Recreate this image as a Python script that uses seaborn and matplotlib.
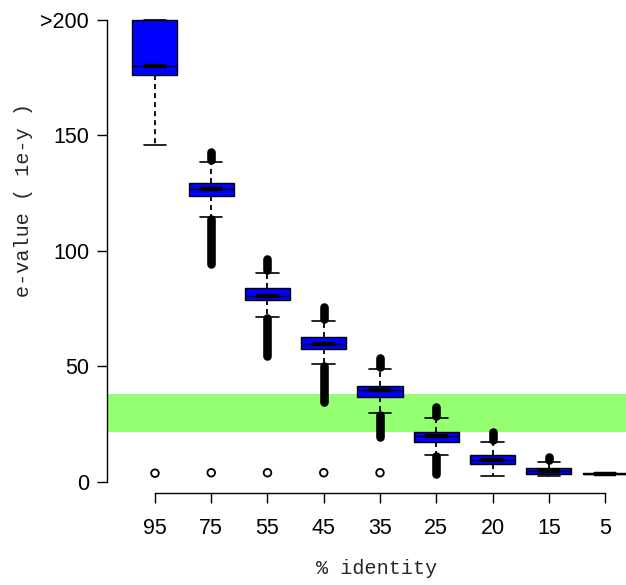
import numpy as np
import pandas as pd
import matplotlib
matplotlib.use("Agg")
import matplotlib.pyplot as plt
import seaborn as sns

nan = np.nan
identity = ["95", "75", "55", "45", "35", "25", "20", "15", "5"]
whisker_low = [146.0, 114.7, 71.6, 51.0, 29.7, 11.7, 2.6, 2.7, 3.3]
q1 = [176.0, 123.8, 78.8, 57.4, 36.7, 17.4, 7.6, 3.6, 3.4]
median = [180.0, 126.8, 80.6, 59.6, 39.7, 19.9, 9.7, 4.8, 3.6]
q3 = [200.0, 129.4, 84.0, 62.6, 41.7, 21.8, 11.7, 5.9, 3.8]
whisker_high = [200.0, 138.5, 90.6, 69.7, 48.9, 27.6, 17.5, 8.8, 3.9]
# dense runs of outliers (drawn as overlapping circles in the original)
upper_out_from = [nan, 139.4, 91.6, 70.6, 49.8, 28.4, 18.2, 9.5, nan]
upper_out_to = [nan, 142.7, 96.5, 75.9, 53.5, 32.6, 21.5, 10.9, nan]
lower_out_from = [nan, 113.9, 70.8, 50.2, 29.0, 11.3, nan, nan, nan]
lower_out_to = [nan, 94.2, 54.5, 34.6, 19.6, 3.6, nan, nan, nan]
far_outlier = [3.8, 4.0, 4.0, 4.0, 4.0, nan, nan, nan, nan]
band_low, band_high = 21.6, 38.3
y_ticks = [0, 50, 100, 150, 200]
y_tick_labels = ["0", "50", "100", "150", ">200"]

sns.set_style("white")
plt.rcParams["font.family"] = ["Liberation Sans", "DejaVu Sans"]

rows = []
for i, c in enumerate(identity):
    for v in (whisker_low[i], q1[i], median[i], q3[i], whisker_high[i]):
        rows.append({"identity": c, "evalue": v})
df = pd.DataFrame(rows)

fig = plt.figure(figsize=(6.26, 5.85), dpi=100)
ax = fig.add_axes([106.6 / 626, (585 - 493.3) / 585, 546.8 / 626, 491.8 / 585])

ax.axhspan(band_low, band_high, color="#94FF70", zorder=0, lw=0)

sns.boxplot(data=df, x="identity", y="evalue", order=identity, ax=ax,
            whis=(0, 100), width=0.8, color="blue", saturation=1,
            linecolor="black", linewidth=1.0, showfliers=False,
            whiskerprops={"linestyle": (0, (2.8, 2.2)), "linewidth": 1.3},
            capprops={"linewidth": 1.2},
            medianprops={"linewidth": 1.0})

pos = np.arange(len(identity))
ax.hlines(median, pos - 0.2, pos + 0.2, color="black", lw=3.2, zorder=5)

ax.vlines(pos, upper_out_from, upper_out_to, color="black", lw=6.2,
          capstyle="round", zorder=4)
ax.vlines(pos, lower_out_from, lower_out_to, color="black", lw=6.2,
          capstyle="round", zorder=4)

sns.scatterplot(x=pos, y=far_outlier, ax=ax, marker="o", s=30,
                facecolor="none", edgecolor="black", linewidth=1.3, zorder=4)

ax.set_xlim(-0.86, 8.86)
ax.set_ylim(-4.9, 208)
for s in ("top", "right"):
    ax.spines[s].set_visible(False)
ax.spines["left"].set_bounds(0, 200)
ax.spines["bottom"].set_bounds(0, 8)
for s in ("left", "bottom"):
    ax.spines[s].set_linewidth(1.0)
    ax.spines[s].set_color("black")

ax.set_yticks(y_ticks)
ax.set_yticklabels(y_tick_labels)
ax.set_xticks(pos)
ax.set_xticklabels(identity)
ax.tick_params(axis="both", length=7, width=1.0, color="black",
               labelsize=15.5, labelcolor="black")
ax.tick_params(axis="y", pad=5.5, left=True)
ax.tick_params(axis="x", pad=10.5, bottom=True)

ax.set_xlabel("% identity", family="Liberation Mono", fontsize=14.5)
ax.set_ylabel("e-value ( 1e-y )", family="Liberation Mono", fontsize=14.5)
ax.xaxis.set_label_coords(0.494, -0.152)
ax.yaxis.set_label_coords(-0.152, 0.596)
ax.xaxis.label.set_va("center")
ax.yaxis.label.set_va("center")

fig.savefig("out.png", dpi=100)
